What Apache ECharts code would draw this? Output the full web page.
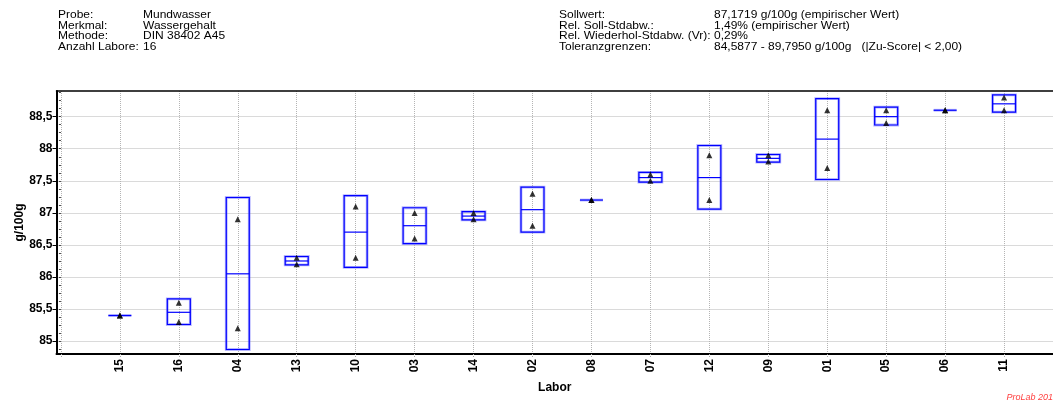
<!DOCTYPE html>
<html>
<head>
<meta charset="utf-8">
<script src="https://cdn.jsdelivr.net/npm/echarts@6/dist/echarts.min.js"></script>
<style>
html,body{margin:0;padding:0;background:#fff;}
#chart{width:1053px;height:403px;}
</style>
</head>
<body>
<div id="chart"></div>
<script>
// ---- data ----
const labs = ['15','16','04','13','10','03','14','02','08','07','12','09','01','05','06','11'];
const result1 = [85.4, 85.6, 86.9, 86.3, 87.1, 87.0, 87.0, 87.3, 87.2, 87.6, 87.9, 87.9, 88.6, 88.6, 88.6, 88.8];
const result2 = [85.4, 85.3, 85.2, 86.2, 86.3, 86.6, 86.9, 86.8, 87.2, 87.5, 87.2, 87.8, 87.7, 88.4, 88.6, 88.6];
const labMean = [85.40, 85.45, 86.05, 86.25, 86.70, 86.80, 86.95, 87.05, 87.20, 87.55, 87.55, 87.85, 88.15, 88.50, 88.60, 88.70];
const boxLow  = [85.40, 85.26, 84.87, 86.19, 86.15, 86.52, 86.89, 86.70, 87.20, 87.48, 87.06, 87.79, 87.52, 88.37, 88.60, 88.57];
const boxHigh = [85.40, 85.66, 87.24, 86.32, 87.27, 87.08, 87.02, 87.40, 87.20, 87.63, 88.05, 87.91, 88.78, 88.65, 88.60, 88.84];
const yTicks = [85, 85.5, 86, 86.5, 87, 87.5, 88, 88.5];
const xGridTicks = [0,1,2,3,4,5,6,7,8,9,10,11,12,13,14,15,16];
const yAxisName = 'g/100g';
const xAxisName = 'Labor';

const headerLeftLabels = ['Probe:', 'Merkmal:', 'Methode:', 'Anzahl Labore:'];
const headerLeftValues = ['Mundwasser', 'Wassergehalt', 'DIN 38402 A45', '16'];
const headerRightLabels = ['Sollwert:', 'Rel. Soll-Stdabw.:', 'Rel. Wiederhol-Stdabw. (Vr):', 'Toleranzgrenzen:'];
const headerRightValues = ['87,1719 g/100g (empirischer Wert)', '1,49% (empirischer Wert)', '0,29%', '84,5877 - 89,7950 g/100g   (|Zu-Score| < 2,00)'];

// ---- build ----
const FONT = 'Arial, "Liberation Sans", sans-serif';
const yMinor = [];
for (let v = 84.875; v < 88.9; v += 0.125) yMinor.push(Math.round(v * 1000) / 1000);

const boxData = labs.map((l, i) => [i + 1, boxLow[i], boxHigh[i], labMean[i]]);
const pts = [];
labs.forEach((l, i) => { pts.push([i + 1, result1[i]]); pts.push([i + 1, result2[i]]); });

const graphics = [];
function addCol(arr, x) {
  arr.forEach((t, i) => graphics.push({
    type: 'text', x: x, y: 14.3 + i * 9.6, scaleY: 0.92, originY: 14.3 + i * 9.6,
    style: { text: t, font: '12px ' + FONT, fill: '#000', verticalAlign: 'middle', align: 'left' }
  }));
}
addCol(headerLeftLabels, 58);
addCol(headerLeftValues, 143);
addCol(headerRightLabels, 559);
addCol(headerRightValues, 714);
graphics.push({
  type: 'text', x: 1053, y: 397,
  style: { text: 'ProLab 201', font: 'italic 9px ' + FONT, fill: '#ff4040', align: 'right', verticalAlign: 'middle' }
});
graphics.push({
  type: 'text', x: 19.5, y: 222.5, rotation: Math.PI / 2,
  style: { text: yAxisName, font: 'bold 12px ' + FONT, fill: '#000', align: 'center', verticalAlign: 'middle' }
});

const chart = echarts.init(document.getElementById('chart'));
chart.setOption({
  animation: false,
  backgroundColor: '#fff',
  graphic: graphics,
  grid: { left: 56.5, right: 0, top: 91, bottom: 49, outerBoundsMode: 'none', containLabel: false },
  xAxis: [{
    type: 'value', min: -0.075, max: 16.83,
    name: xAxisName, nameLocation: 'middle', nameGap: 28,
    nameTextStyle: { fontFamily: FONT, fontWeight: 'bold', fontSize: 12, color: '#000' },
    axisLine: { show: true, onZero: false, lineStyle: { color: '#000', width: 2 } },
    axisTick: { show: true, customValues: xGridTicks, length: 3, lineStyle: { color: '#aaa', type: 'dotted' } },
    axisLabel: {
      customValues: xGridTicks.slice(1), rotate: 90, margin: 5,
      fontFamily: FONT, fontWeight: 'bold', fontSize: 12, color: '#000',
      formatter: v => labs[Math.round(v) - 1] || ''
    },
    splitLine: { show: true, lineStyle: { color: '#b4b4b4', type: 'dotted', width: 1 } }
  }, {
    type: 'value', position: 'top', min: -0.075, max: 16.83,
    axisLine: { show: true, onZero: false, lineStyle: { color: '#000', width: 1.5 } },
    axisTick: { show: false }, axisLabel: { show: false }, splitLine: { show: false }
  }],
  yAxis: [{
    type: 'value', min: 84.8, max: 88.9,
    axisLine: { show: true, onZero: false, lineStyle: { color: '#000', width: 2 } },
    axisTick: { show: true, customValues: yTicks, length: 4, lineStyle: { color: '#000', width: 1 } },
    axisLabel: {
      customValues: yTicks, margin: 4,
      fontFamily: FONT, fontWeight: 'bold', fontSize: 12, color: '#000',
      formatter: v => String(v).replace('.', ',')
    },
    splitLine: { show: true, lineStyle: { color: '#b4b4b4', type: 'dotted', width: 1 } }
  }, {
    type: 'value', min: 84.8, max: 88.9, position: 'left', offset: 0,
    axisLine: { show: false },
    axisTick: { show: true, customValues: yMinor, length: 2, lineStyle: { color: '#444', width: 1 } },
    axisLabel: { show: false }, splitLine: { show: false }
  }],
  series: [{
    type: 'custom',
    xAxisIndex: 0, yAxisIndex: 0,
    data: boxData,
    encode: { x: 0, y: [1, 2, 3] },
    z: 3,
    renderItem: function (params, api) {
      const x = api.value(0), lo = api.value(1), hi = api.value(2), mid = api.value(3);
      const pLo = api.coord([x, lo]), pHi = api.coord([x, hi]), pMid = api.coord([x, mid]);
      const hw = 11.5;
      const halo = { stroke: 'rgba(90,90,255,0.45)', fill: null, lineWidth: 2.8 };
      const core = { stroke: '#0000ff', fill: null, lineWidth: 1.2 };
      const children = [];
      if (Math.abs(hi - lo) < 1e-9) {
        const sh = { x1: pLo[0] - hw, y1: pLo[1], x2: pLo[0] + hw, y2: pLo[1] };
        children.push({ type: 'line', shape: sh, style: halo });
        children.push({ type: 'line', shape: sh, style: core });
      } else {
        const r = { x: pHi[0] - hw, y: pHi[1], width: 2 * hw, height: pLo[1] - pHi[1] };
        const m = { x1: pMid[0] - hw, y1: pMid[1], x2: pMid[0] + hw, y2: pMid[1] };
        children.push({ type: 'rect', shape: r, style: halo });
        children.push({ type: 'rect', shape: r, style: core });
        children.push({ type: 'line', shape: m, style: core });
      }
      return { type: 'group', children: children };
    }
  }, {
    type: 'scatter',
    xAxisIndex: 0, yAxisIndex: 0,
    data: pts,
    symbol: 'triangle', symbolSize: 6,
    itemStyle: { color: '#000' },
    z: 5
  }]
});
</script>
</body>
</html>
